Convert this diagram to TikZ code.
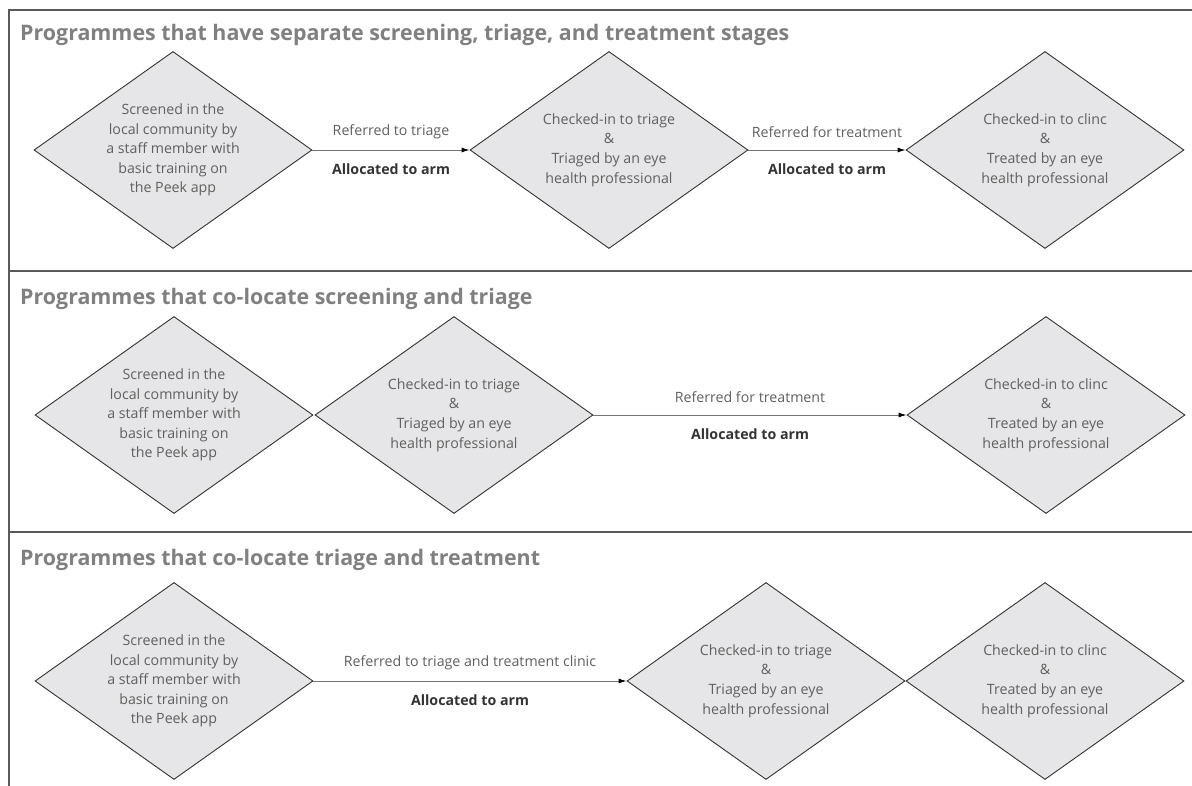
\documentclass[tikz,border=0pt]{standalone}
\usepackage{fontspec}
\setmainfont{Open Sans}
\usetikzlibrary{shapes.geometric,arrows.meta}
\definecolor{boxgrey}{HTML}{E6E5E7}
\definecolor{textgrey}{HTML}{606060}
\definecolor{titlegrey}{HTML}{808080}
\definecolor{framegrey}{HTML}{5A5A5A}

\newcommand\screened{Screened in the\\local community by\\a staff member with\\basic training on\\the Peek app}
\newcommand\triaged{Checked-in to triage\\\&\\Triaged by an eye\\health professional}
\newcommand\treated{Checked-in to clinc\\\&\\Treated by an eye\\health professional}

\begin{document}
\begin{tikzpicture}[x=1pt,y=-1pt,
    stage/.style={diamond,draw=black!80,line width=0.9pt,fill=boxgrey,minimum width=278pt,
      minimum height=197pt,aspect=1.4,inner sep=0pt,align=center,text=textgrey,
      font=\fontsize{14.2}{19.6}\selectfont},
    flow/.style={draw=black!55,line width=0.9pt,-{Latex[length=8pt,width=5pt,color=black]}},
    heading/.style={anchor=west,inner sep=0pt,text=titlegrey,font=\fontsize{21.4}{25}\selectfont\bfseries},
    refer/.style={midway,yshift=18pt,text=textgrey,font=\fontsize{14.2}{17}\selectfont},
    arm/.style={midway,yshift=-19pt,text=black!80,font=\fontsize{14.2}{17}\selectfont\bfseries}]
  \useasboundingbox (0,0) rectangle (1192,786);
  % frame and panel rules
  \draw[framegrey,line width=1.3pt] (1192,10) -- (9,10) -- (9,786);
  \draw[framegrey,line width=1.3pt] (9,271) -- (1192,271);
  \draw[framegrey,line width=1.3pt] (9,532) -- (1192,532);

  % separate stages
  \node[heading] (h1) at (20,35) {Programmes that have separate screening, triage, and treatment stages};
  \node[stage] (s1) at (173,150) {\screened};
  \node[stage] (t1) at (609,150) {\triaged};
  \node[stage] (c1) at (1045,150) {\treated};
  \draw[flow] (s1.east) -- (t1.west) node[refer] {Referred to triage} node[arm] {Allocated to arm};
  \draw[flow] (t1.east) -- (c1.west) node[refer] {Referred for treatment} node[arm] {Allocated to arm};

  % screening and triage together
  \node[heading] (h2) at (20,299) {Programmes that co-locate screening and triage};
  \node[stage] (s2) at (174,415) {\screened};
  \node[stage] (t2) at (454,415) {\triaged};
  \node[stage] (c2) at (1046,415) {\treated};
  \draw[flow] (t2.east) -- (c2.west) node[refer] {Referred for treatment} node[arm] {Allocated to arm};

  % triage and treatment together
  \node[heading] (h3) at (20,560) {Programmes that co-locate triage and treatment};
  \node[stage] (s3) at (174,681) {\screened};
  \node[stage] (t3) at (766,681) {\triaged};
  \node[stage] (c3) at (1045,681) {\treated};
  \draw[flow] (s3.east) -- (t3.west) node[refer] {Referred to triage and treatment clinic} node[arm] {Allocated to arm};
\end{tikzpicture}
\end{document}
